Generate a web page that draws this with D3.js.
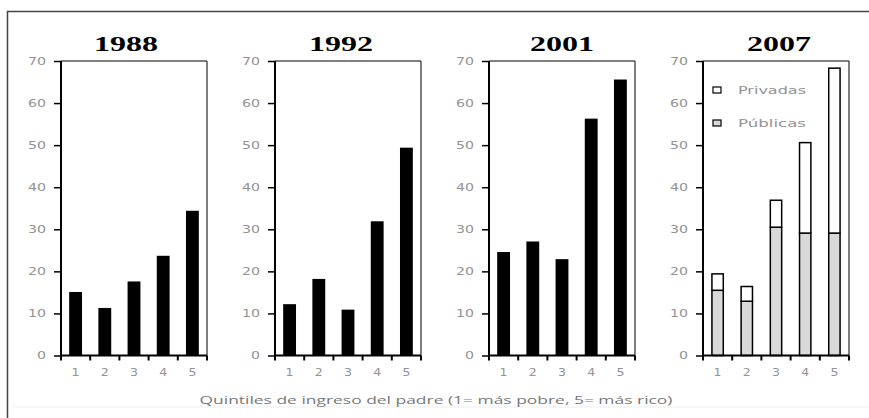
<!DOCTYPE html>
<html>
<head>
<meta charset="utf-8">
<script src="https://cdn.jsdelivr.net/npm/d3@7"></script>
<style>
  body { margin: 0; background: #fff; }
  svg { display: block; }
</style>
</head>
<body>
<div id="chart"></div>
<script>
// Tasa de asistencia por quintil de ingreso del padre

const years = ['1988', '1992', '2001', '2007'];
const quintiles = [1, 2, 3, 4, 5];
const yTicks = [0, 10, 20, 30, 40, 50, 60, 70];

const values1988 = [15.1, 11.3, 17.6, 23.7, 34.4];
const values1992 = [12.2, 18.2, 10.9, 31.9, 49.4];
const values2001 = [24.6, 27.1, 22.9, 56.3, 65.6];
const publicas2007 = [15.5, 12.9, 30.5, 29.1, 29.1];
const privadas2007 = [3.9, 3.5, 6.4, 21.5, 39.2];

const legendLabels = ['Privadas', 'Públicas'];
const xTitle = 'Quintiles de ingreso del padre (1= más pobre, 5= más rico)';

const W = 869, H = 418;
const panelW = 146;
const plotTop = 61, plotBottom = 355.5;
const tickGrey = '#939393';
const titleShift = [-8, -7, 0, 3];

const svg = d3.select('#chart').append('svg')
    .attr('width', W)
    .attr('height', H);

// outer frame
svg.append('path')
    .attr('d', `M7.5,${H} V11.5 H${W}`)
    .attr('fill', 'none')
    .attr('stroke', '#444')
    .attr('stroke-width', 1.5);
svg.append('line')
    .attr('x1', 14).attr('x2', W).attr('y1', 407).attr('y2', 407)
    .attr('stroke', '#eee');

const y = d3.scaleLinear().domain([0, 70]).range([plotBottom, plotTop]);
const x = d3.scaleBand()
    .domain(quintiles)
    .range([0, panelW])
    .paddingInner(0.56)
    .paddingOuter(0.28);

// stretch text horizontally like the source picture
function stretch(sel, perChar) {
    sel.attr('textLength', function() { return this.textContent.length * perChar; })
        .attr('lengthAdjust', 'spacingAndGlyphs');
}

const seriesByYear = {
    '1988': values1988,
    '1992': values1992,
    '2001': values2001
};

years.forEach((year, i) => {
    const left = 61 + i * 214;
    const g = svg.append('g').attr('transform', `translate(${left},0)`);

    // title
    g.append('text')
        .attr('x', panelW / 2 + titleShift[i])
        .attr('y', 51)
        .attr('text-anchor', 'middle')
        .style('font-family', '"Liberation Serif", "Times New Roman", serif')
        .style('font-weight', 'bold')
        .style('font-size', '20px')
        .attr('fill', '#000')
        .text(year)
        .call(stretch, 16);

    // y axis
    const yAxis = g.append('g')
        .call(d3.axisLeft(y).tickValues(yTicks).tickSize(7).tickPadding(8));
    yAxis.select('.domain').remove();
    yAxis.selectAll('.tick line').attr('stroke', '#000').attr('stroke-width', 1.5);
    yAxis.selectAll('.tick text')
        .attr('fill', tickGrey)
        .style('font-family', '"DejaVu Sans", sans-serif')
        .style('font-size', '10px')
        .call(stretch, 9);

    // x labels
    const xAxis = g.append('g')
        .attr('transform', `translate(0,${plotBottom})`)
        .call(d3.axisBottom(x).tickSize(0).tickPadding(13));
    xAxis.select('.domain').remove();
    xAxis.selectAll('.tick text')
        .attr('fill', tickGrey)
        .style('font-family', '"DejaVu Sans", sans-serif')
        .style('font-size', '10px')
        .call(stretch, 8);

    // bars
    if (year !== '2007') {
        g.selectAll('.bar')
            .data(seriesByYear[year])
            .enter().append('rect')
            .attr('class', 'bar')
            .attr('x', (d, j) => x(quintiles[j]))
            .attr('y', d => y(d))
            .attr('width', x.bandwidth())
            .attr('height', d => y(0) - y(d))
            .attr('fill', '#000');
    } else {
        const rows = quintiles.map((q, j) => ({ q: q, pub: publicas2007[j], priv: privadas2007[j] }));
        const stacked = d3.stack().keys(['pub', 'priv'])(rows);
        const fills = { pub: '#d9d9d9', priv: '#fff' };
        stacked.forEach(layer => {
            g.selectAll('.bar-' + layer.key)
                .data(layer)
                .enter().append('rect')
                .attr('x', d => x(d.data.q) + 0.75)
                .attr('y', d => y(d[1]))
                .attr('width', x.bandwidth() - 1.5)
                .attr('height', d => y(d[0]) - y(d[1]))
                .attr('fill', fills[layer.key])
                .attr('stroke', '#000')
                .attr('stroke-width', 1.5);
        });

        // legend
        const legend = g.append('g').attr('transform', 'translate(10,0)');
        const legendY = [90, 123];
        const legendFill = ['#fff', '#d9d9d9'];
        legendLabels.forEach((lab, k) => {
            legend.append('rect')
                .attr('x', 0).attr('y', legendY[k] - 3)
                .attr('width', 8).attr('height', 6)
                .attr('fill', legendFill[k])
                .attr('stroke', '#000')
                .attr('stroke-width', 1.2);
            legend.append('text')
                .attr('x', 25).attr('y', legendY[k] + 3.5)
                .attr('fill', tickGrey)
                .style('font-family', '"DejaVu Sans", sans-serif')
                .style('font-size', '10px')
                .text(lab)
                .call(stretch, 8.5);
        });
    }

    // frame: thick left/bottom axes, thin top/right
    g.append('path')
        .attr('d', `M0,${plotTop} V${plotBottom} H${panelW}`)
        .attr('fill', 'none')
        .attr('stroke', '#000')
        .attr('stroke-width', 2);
    g.append('path')
        .attr('d', `M0,${plotTop} H${panelW} V${plotBottom}`)
        .attr('fill', 'none')
        .attr('stroke', '#000')
        .attr('stroke-width', 1);

    // category boundary ticks
    g.selectAll('.xtick')
        .data(d3.range(quintiles.length + 1))
        .enter().append('line')
        .attr('x1', k => k * x.step())
        .attr('x2', k => k * x.step())
        .attr('y1', plotBottom)
        .attr('y2', plotBottom + 5)
        .attr('stroke', '#000')
        .attr('stroke-width', 2);
});

// shared x title
svg.append('text')
    .attr('x', 436)
    .attr('y', 404)
    .attr('text-anchor', 'middle')
    .attr('fill', '#777')
    .style('font-family', '"Open Sans", "DejaVu Sans", sans-serif')
    .style('font-size', '11px')
    .attr('textLength', 473)
    .attr('lengthAdjust', 'spacingAndGlyphs')
    .text(xTitle);
</script>
</body>
</html>
